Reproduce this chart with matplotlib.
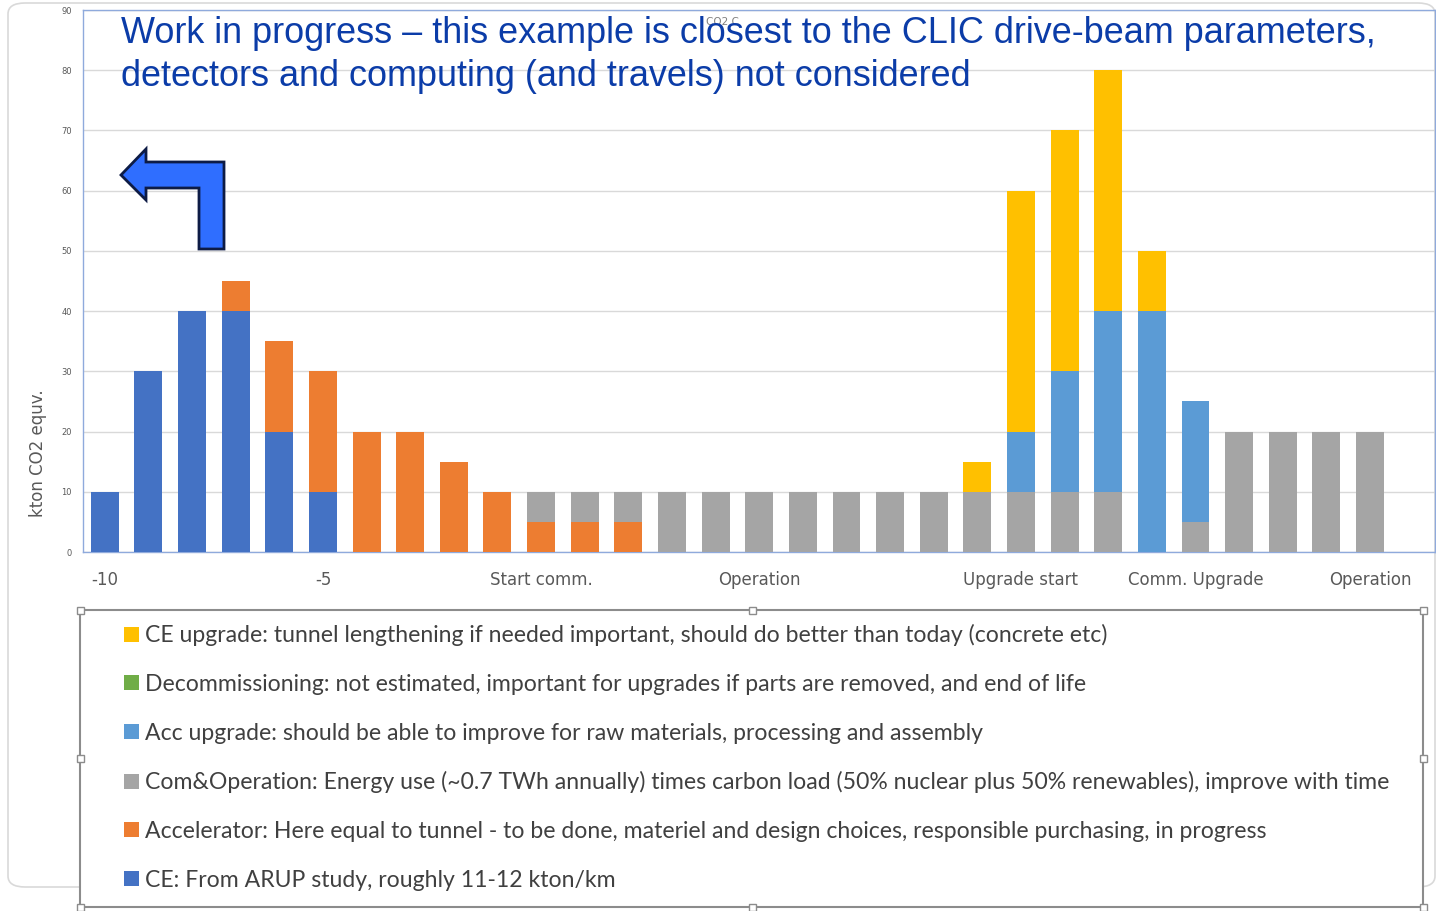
import numpy as np
import matplotlib.pyplot as plt
from matplotlib.patches import Polygon, FancyBboxPatch, Rectangle

# CO2 per year, kton, by phase (30 years)
ce     = [10, 30, 40, 40, 20, 10] + [0] * 24
acc    = [0, 0, 0, 5, 15, 20, 20, 20, 15, 10, 5, 5, 5] + [0] * 17
com    = [0] * 10 + [5, 5, 5] + [10] * 7 + [10, 10, 10, 10, 0, 5, 20, 20, 20, 20]
acc_up = [0] * 21 + [10, 20, 30, 40, 20, 0, 0, 0, 0]
decom  = [0] * 30
ce_up  = [0] * 20 + [5, 40, 40, 40, 10, 0, 0, 0, 0, 0]

tick_pos = [0, 5, 10, 15, 21, 25, 29]
tick_labels = ["-10", "-5", "Start comm.", "Operation", "Upgrade start", "Comm. Upgrade", "Operation"]

series = [
    ("CE: From ARUP study, roughly 11-12 kton/km", ce, "#4472C4"),
    ("Accelerator: Here equal to tunnel - to be done, materiel and design choices, responsible purchasing, in progress", acc, "#ED7D31"),
    ("Com&Operation: Energy use (~0.7 TWh annually) times carbon load (50% nuclear plus 50% renewables), improve with time", com, "#A5A5A5"),
    ("Acc upgrade: should be able to improve for raw materials, processing and assembly", acc_up, "#5B9BD5"),
    ("Decommissioning: not estimated, important for upgrades if parts are removed, and end of life", decom, "#70AD47"),
    ("CE upgrade: tunnel lengthening if needed important, should do better than today (concrete etc)", ce_up, "#FFC000"),
]

W, H = 1436, 911
fig = plt.figure(figsize=(W / 100, H / 100), dpi=100)

def fx(px):
    return px / W

def fy(py):
    return 1 - py / H

# outer chart frame
fig.patches.append(FancyBboxPatch((fx(8), fy(887)), fx(1427), 884 / H, boxstyle="round,pad=0,rounding_size=0.012",
                                  transform=fig.transFigure, fc="none", ec="#D9D9D9", lw=1.2, zorder=-1))

ax = fig.add_axes([fx(83), fy(552), fx(1435 - 83), (552 - 10) / H])
x = np.arange(30)
bottom = np.zeros(30)
handles = []
for label, vals, color in series:
    vals = np.array(vals, dtype=float)
    b = ax.bar(x, vals, 0.64, bottom=bottom, color=color, label=label, zorder=3)
    handles.append(b)
    bottom += vals

ax.set_xlim(-0.5, 30.49)
ax.set_ylim(0, 90)
ax.set_yticks(range(0, 91, 10))
ax.grid(axis="y", color="#D9D9D9", lw=1, zorder=0)
ax.set_xticks(tick_pos)
ax.set_xticklabels(tick_labels, fontsize=12, color="#595959")
ax.tick_params(axis="x", length=0, pad=14)
ax.tick_params(axis="y", length=0, labelsize=6, labelcolor="#595959", pad=8)
for s in ax.spines.values():
    s.set_color("#8FAADC")
    s.set_linewidth(1)
ax.set_facecolor("none")

fig.text(fx(38), fy(453), "kton CO2 equv.", rotation=90, ha="center", va="center", fontsize=12, color="#595959")
fig.text(fx(722), fy(22), "CO2 C", ha="center", va="center", fontsize=7.5, color="#7F7F7F")

fig.text(fx(121), fy(16), "Work in progress \u2013 this example is closest to the CLIC drive-beam parameters,\n"
         "detectors and computing (and travels) not considered",
         ha="left", va="top", fontsize=25.9, family="Liberation Sans", color="#0B3CA8", linespacing=1.3)

# bent arrow pointing left
arrow_px = [(121, 175), (146, 149), (146, 162), (224, 162), (224, 249), (199, 249),
            (199, 188), (146, 188), (146, 200)]
fig.patches.append(Polygon([(fx(a), fy(b)) for a, b in arrow_px], closed=True, transform=fig.transFigure,
                           fc="#2F6EFF", ec="#0D1B45", lw=2, zorder=5))

# legend text box
fig.patches.append(Rectangle((fx(80), fy(907)), fx(1423 - 80), (907 - 610) / H, transform=fig.transFigure,
                             fc="white", ec="#8C8C8C", lw=1.5, zorder=1))
for hx, hy in [(80, 610), (752, 610), (1423, 610), (80, 758), (1423, 758), (80, 907), (752, 907), (1423, 907)]:
    fig.patches.append(Rectangle((fx(hx - 3.5), fy(hy + 3.5)), fx(7), 7 / H, transform=fig.transFigure,
                                 fc="white", ec="#8C8C8C", lw=1, zorder=2))

leg = fig.legend(handles[::-1], [s[0] for s in series][::-1], loc="upper left",
                 bbox_to_anchor=(fx(115), fy(615)), frameon=False,
                 prop={"family": "Lato", "size": 16.6}, handlelength=0.62, handleheight=0.62,
                 handletextpad=0.28, labelspacing=1.2, borderaxespad=0)
for t in leg.get_texts():
    t.set_color("#404040")

fig.savefig("out.png", dpi=100)
